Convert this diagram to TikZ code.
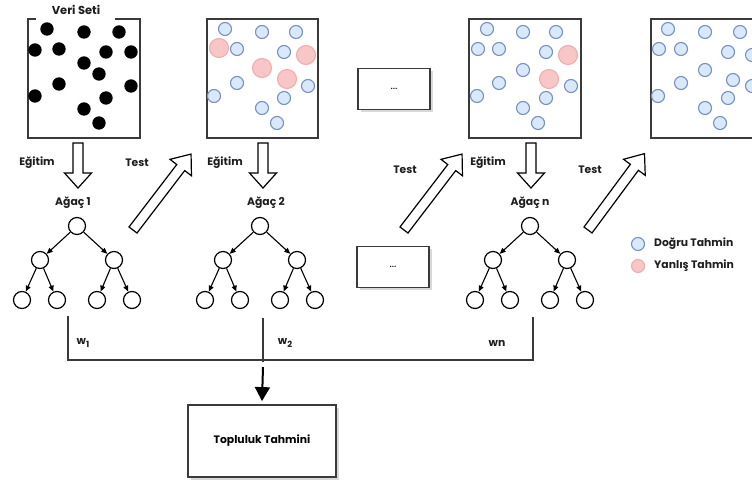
\documentclass[tikz,border=0pt]{standalone}
\usepackage{fontspec}
\setmainfont{Poppins}
\usetikzlibrary{arrows.meta,shadows,calc}
\definecolor{bfill}{HTML}{DAE8FC}
\definecolor{bdraw}{HTML}{7591BF}
\definecolor{rfill}{HTML}{F8C6C6}
\definecolor{rdraw}{HTML}{EFAEAE}
\definecolor{boxc}{HTML}{3A3A3A}
\definecolor{txt}{HTML}{1E1E1E}
\tikzset{
  bx/.style={draw=boxc, line width=1.8},
  tn/.style={circle, draw=black, line width=1.2, minimum size=17, inner sep=0},
  te/.style={-{Triangle[length=6,width=5]}, line width=1.1},
  lbl/.style={font=\bfseries\fontsize{10.8}{12}\selectfont, text=txt, inner sep=0},
  harrow/.style={draw=black, line width=1.2, fill=white, line join=miter},
  blk/.style={circle, fill=black, inner sep=0, minimum size=13.4},
  bdot/.style={circle, fill=bfill, draw=bdraw, line width=1.1, inner sep=0, minimum size=13},
  rdot/.style={circle, fill=rfill, draw=rdraw, line width=1.1, inner sep=0, minimum size=19},
  dbox/.style={draw=boxc, line width=1.8, fill=white, minimum width=72, minimum height=41,
     drop shadow={shadow xshift=2.5, shadow yshift=2.5, opacity=0.3, fill=gray}},
}
\newcommand\hollowarrow[5]{% x y angle length headlen
  \begin{scope}[shift={(#1,#2)},rotate=#3]
   \draw[harrow] (0,-5) -- ({#4-#5},-5) -- ({#4-#5},-13.5) -- (#4,0) -- ({#4-#5},13.5) -- ({#4-#5},5) -- (0,5) -- cycle;
  \end{scope}}
\begin{document}
\begin{tikzpicture}[x=1pt,y=-1pt]
\useasboundingbox (0,0) rectangle (752,481);
\fill[white] (0,0) rectangle (752,481);
\begin{scope}
\clip (0,0) rectangle (752,481);
% Box 1: Veri Seti
\node[lbl, font=\bfseries\fontsize{11.5}{13}\selectfont] (veri) at (76,10) {Veri Seti};
\draw[bx] (36,19) -- (28,19) -- (28,138) -- (140,138) -- (140,19) -- (115,19);
\foreach \i/\x/\y in {1/19/29, 2/56/32, 3/91/32, 4/7/50, 5/31/49, 6/78/52, 7/103/52, 8/56/63, 9/71/74, 10/31/84, 11/103/86, 12/7/96, 13/78/98, 14/56/109, 15/71/123}
  \node[blk] (a\i) at (28+\x,\y) {};
% Box 2
\node[bx, draw, minimum width=111, minimum height=119, inner sep=0] (box2) at (262.5,78.5) {};
\foreach \i/\x/\y/\s in {1/18/29/bdot, 2/55/32/bdot, 3/89/32/bdot, 4/12/48/rdot, 5/30/49/bdot, 6/77/52/bdot, 7/99/55/rdot, 8/55/68/rdot, 9/80/79/rdot, 10/30/83/bdot, 11/101/86/bdot, 12/7/96/bdot, 13/77/98/bdot, 14/55/108/bdot, 15/70/123/bdot}
  \node[\s] (b\i) at (207+\x,\y) {};
% Box 3
\node[bx, draw, minimum width=112, minimum height=119, inner sep=0] (box3) at (525,78.5) {};
\foreach \i/\x/\y/\s in {1/18/29/bdot, 2/54/32/bdot, 3/87/32/bdot, 4/9/49/bdot, 5/30/49/bdot, 6/77/52/bdot, 7/99/55/rdot, 8/54/70/bdot, 9/80/79/rdot, 10/30/83/bdot, 11/102/86/bdot, 12/8/96/bdot, 13/77/98/bdot, 14/54/108/bdot, 15/69/123/bdot}
  \node[\s] (c\i) at (469+\x,\y) {};
% Box 4
\node[bx, draw, minimum width=112, minimum height=119, inner sep=0] (box4) at (707,78.5) {};
\foreach \i/\x/\y in {1/17/29, 2/54/32, 3/89/32, 4/8/49, 5/30/49, 6/77/52, 7/101/55, 8/54/70, 9/82/80, 10/30/83, 11/101/86, 12/7/96, 13/77/98, 14/54/108, 15/69/123}
  \node[bdot] (d\i) at (651+\x,\y) {};
\end{scope}
% dots boxes
\node[dbox] (dots1) at (394,89) {\fontsize{11}{12}\selectfont ...};
\node[dbox] (dots2) at (393,267) {\fontsize{11}{12}\selectfont ...};
% labels
\node[lbl] (e1) at (37,163) {Eğitim};
\node[lbl] (e2) at (225,163) {Eğitim};
\node[lbl] (e3) at (488,163) {Eğitim};
\node[lbl] (t1) at (137,163) {Test};
\node[lbl] (t2) at (405,170) {Test};
\node[lbl] (t3) at (590,170) {Test};
\node[lbl] (ag1) at (73,203) {Ağaç 1};
\node[lbl] (ag2) at (266,203) {Ağaç 2};
\node[lbl] (agn) at (530,203) {Ağaç n};
% hollow arrows
\hollowarrow{78}{143}{-90}{45}{15}
\hollowarrow{263}{143}{-90}{45}{15}
\hollowarrow{531}{143}{-90}{45}{15}
\hollowarrow{133}{230}{52.6}{95.6}{17}
\hollowarrow{404}{230}{52.6}{95.6}{17}
\hollowarrow{588}{230}{53.5}{95}{17}
% trees
\foreach \t/\r in {p/77, q/260, s/530}{
  \node[tn] (\t0) at (\r,226) {};
  \node[tn] (\t1) at (\r-37,260) {};
  \node[tn] (\t2) at (\r+37,260) {};
  \node[tn] (\t3) at (\r-55,300) {};
  \node[tn] (\t4) at (\r-20,300) {};
  \node[tn] (\t5) at (\r+20,300) {};
  \node[tn] (\t6) at (\r+55,300) {};
  \draw[te] (\t0) -- (\t1);
  \draw[te] (\t0) -- (\t2);
  \draw[te] (\t1) -- (\t3);
  \draw[te] (\t1) -- (\t4);
  \draw[te] (\t2) -- (\t5);
  \draw[te] (\t2) -- (\t6);
}
% legend
\node[bdot] (lg1) at (638,244) {};
\node[lbl, anchor=west] (lt1) at (654,244) {Doğru Tahmin};
\node[bdot, fill=rfill, draw=rdraw] (lg2) at (638,266) {};
\node[lbl, anchor=west] (lt2) at (654,266) {Yanlış Tahmin};
% bottom bracket
\coordinate (w1t) at (68,316);
\coordinate (w1b) at (68,360);
\coordinate (wnt) at (533,317);
\coordinate (wnb) at (533,360);
\coordinate (w2t) at (263,318);
\coordinate (w2b) at (263,362);
\draw[line width=1.5, draw=boxc] (w1t) -- (w1b) -- (wnb) -- (wnt);
\draw[line width=1.5, draw=boxc] (w2t) -- (w2b);
\node[lbl] (w1) at (83,343) {w\raisebox{-0.35ex}{\fontsize{8.5}{9}\selectfont 1}};
\node[lbl] (w2) at (285,343) {w\raisebox{-0.35ex}{\fontsize{8.5}{9}\selectfont 2}};
\node[lbl] (wn) at (497,343) {wn};
% ensemble box
\node[dbox, minimum width=148, minimum height=72] (top) at (262,441) {\bfseries\fontsize{10.8}{12}\selectfont Topluluk Tahmini};
\coordinate (ds) at (263,367);
\draw[line width=2, -{Triangle[length=14,width=15]}] (ds) -- ($(top.north)+(0,-3)$);
\end{tikzpicture}
\end{document}
